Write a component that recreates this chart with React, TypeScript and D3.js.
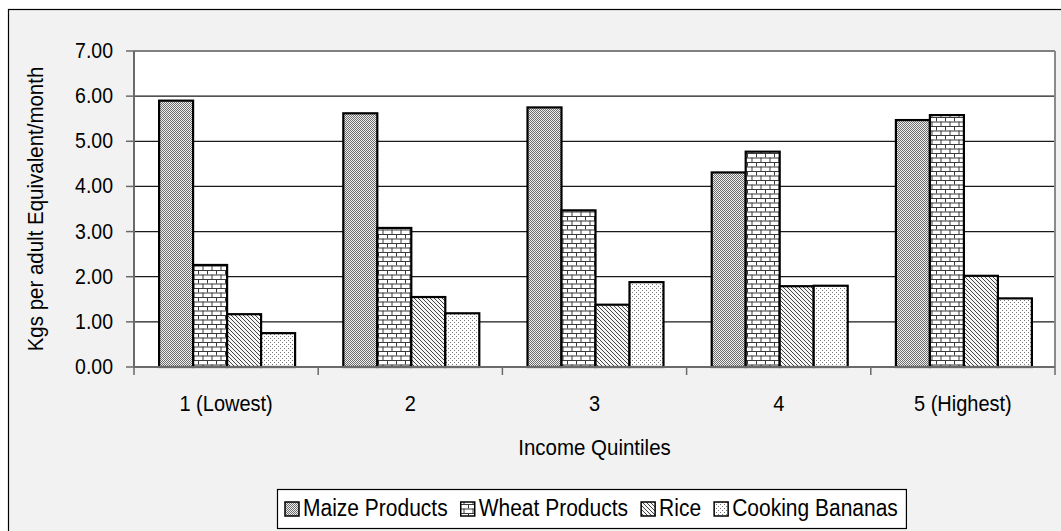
import React from "react";
import * as d3 from "d3";

const categories = ["1 (Lowest)", "2", "3", "4", "5 (Highest)"];
const seriesNames = ["Maize Products", "Wheat Products", "Rice", "Cooking Bananas"];
const maize = [5.9, 5.62, 5.75, 4.31, 5.47];
const wheat = [2.26, 3.08, 3.47, 4.77, 5.58];
const rice = [1.17, 1.55, 1.38, 1.79, 2.02];
const bananas = [0.75, 1.19, 1.88, 1.8, 1.52];
const yTicks = [0, 1, 2, 3, 4, 5, 6, 7];
const yTitle = "Kgs per adult Equivalent/month";
const xTitle = "Income Quintiles";

const seriesValues = [maize, wheat, rice, bananas];
const patternIds = ["pMaize", "pWheat", "pRice", "pBanana"];

const W = 1061;
const H = 531;
const FONT = "'Liberation Sans', Arial, sans-serif";
const SY = 1.12;

function measure(text: string, size: number): number {
  const c = document.createElement("canvas").getContext("2d");
  if (!c) return text.length * size * 0.5;
  c.font = `${size}px 'Liberation Sans', Arial, sans-serif`;
  return c.measureText(text).width;
}

function T(props: { x: number; y: number; size: number; anchor?: string; children: React.ReactNode }) {
  return (
    <text
      transform={`translate(${props.x},${props.y}) scale(1,${SY})`}
      textAnchor={props.anchor || "start"}
      fontSize={props.size}
      fill="#000"
    >
      {props.children}
    </text>
  );
}

export default function App() {
  const plot = { left: 134, right: 1055, top: 51, bottom: 367 };
  const pi = 0.2617;
  const x0 = d3
    .scaleBand<string>()
    .domain(categories)
    .range([plot.left, plot.right])
    .paddingInner(pi)
    .paddingOuter(pi / 2);
  const x1 = d3
    .scaleBand<string>()
    .domain(seriesNames)
    .range([0, x0.bandwidth()])
    .padding(0);
  const y = d3.scaleLinear().domain([0, 7]).range([plot.bottom, plot.top]);
  const step = x0.step();

  // legend layout
  const legendFont = 21;
  const sw = 14;
  const items = seriesNames.map((n) => ({ n, w: measure(n, legendFont) }));
  const gapAfterSwatch = 4;
  const gapBetween = 13;
  const padL = 8;
  const padR = 8;
  let total = padL + padR;
  items.forEach((it, i) => {
    total += sw + gapAfterSwatch + it.w + (i < items.length - 1 ? gapBetween : 0);
  });
  const legendX = 277;
  const legendY = 489;
  const legendH = 39;
  let cursor = legendX + padL;
  const legendItems = items.map((it) => {
    const pos = cursor;
    cursor += sw + gapAfterSwatch + it.w + gapBetween;
    return { ...it, x: pos };
  });

  return (
    <svg width={W} height={H} style={{ position: "absolute", left: 0, top: 0 }} fontFamily={FONT}>
      <defs>
        <pattern id="pMaize" width={4} height={4} patternUnits="userSpaceOnUse">
          <rect width={4} height={4} fill="#efefef" />
          <path
            d="M0,0h1v1h-1z M1,1h1v1h-1z M2,0h1v1h-1z M3,1h1v1h-1z M0,2h1v1h-1z M2,2h1v1h-1z M1,3h1v1h-1z M3,3h1v1h-1z"
            fill="#6e6e6e"
          />
        </pattern>
        <pattern id="pWheat" width={9} height={9} patternUnits="userSpaceOnUse">
          <rect width={9} height={9} fill="#ffffff" />
          <path d="M0,0.5H9 M0,5H9 M0.5,0V4.5 M5,4.5V9" stroke="#3a3a3a" strokeWidth={1} fill="none" />
        </pattern>
        <pattern id="pRice" width={4} height={4} patternUnits="userSpaceOnUse">
          <rect width={4} height={4} fill="#f6f6f6" />
          <path d="M-1,-1L5,5 M-1,3L1,5 M3,-1L5,1" stroke="#444" strokeWidth={1} fill="none" />
        </pattern>
        <pattern id="pBanana" width={4} height={4} patternUnits="userSpaceOnUse">
          <rect width={4} height={4} fill="#ffffff" />
          <rect x={0} y={0} width={1} height={1} fill="#777" />
          <rect x={2} y={2} width={1} height={1} fill="#777" />
        </pattern>
      </defs>

      {/* outer chart area */}
      <rect x={8.5} y={9.5} width={W + 20} height={H + 20} fill="#f2f2f2" stroke="#000" strokeWidth={1.2} />

      {/* plot area */}
      <rect
        x={plot.left}
        y={plot.top}
        width={plot.right - plot.left}
        height={plot.bottom - plot.top}
        fill="#ffffff"
      />

      {/* gridlines */}
      {yTicks.slice(1).map((t) => (
        <line
          key={"g" + t}
          x1={plot.left}
          x2={plot.right}
          y1={y(t)}
          y2={y(t)}
          stroke={t === 7 ? "#808080" : "#1a1a1a"}
          strokeWidth={t === 7 ? 2 : 1.3}
        />
      ))}
      {/* right border */}
      <line x1={plot.right} x2={plot.right} y1={plot.top} y2={plot.bottom} stroke="#8a8a8a" strokeWidth={2} />

      {/* y axis */}
      <line x1={plot.left} x2={plot.left} y1={plot.top} y2={plot.bottom} stroke="#6a6a6a" strokeWidth={2} />
      {yTicks.map((t) => (
        <g key={"yt" + t}>
          <line x1={plot.left - 8} x2={plot.left} y1={y(t)} y2={y(t)} stroke="#6a6a6a" strokeWidth={1.5} />
          <T x={113} y={y(t) + 7} size={19.5} anchor="end">
            {d3.format(".2f")(t)}
          </T>
        </g>
      ))}

      {/* bars */}
      {categories.map((c, ci) => (
        <g key={c}>
          {seriesNames.map((s, si) => {
            const v = seriesValues[si][ci];
            const bx = (x0(c) as number) + (x1(s) as number);
            return (
              <rect
                key={s}
                x={bx + 1}
                y={y(v)}
                width={x1.bandwidth()}
                height={y(0) - y(v)}
                fill={`url(#${patternIds[si]})`}
                stroke="#000"
                strokeWidth={2.2}
              />
            );
          })}
        </g>
      ))}

      {/* x axis */}
      <line x1={plot.left} x2={plot.right} y1={plot.bottom} y2={plot.bottom} stroke="#6a6a6a" strokeWidth={2} />
      {d3.range(categories.length + 1).map((i) => (
        <line
          key={"xt" + i}
          x1={plot.left + i * step}
          x2={plot.left + i * step}
          y1={plot.bottom}
          y2={plot.bottom + 8}
          stroke="#6a6a6a"
          strokeWidth={1.5}
        />
      ))}
      {categories.map((c) => (
        <T key={"xl" + c} x={(x0(c) as number) + x0.bandwidth() / 2} y={411} size={20} anchor="middle">
          {c}
        </T>
      ))}

      {/* titles */}
      <T x={(plot.left + plot.right) / 2} y={455} size={20.5} anchor="middle">
        {xTitle}
      </T>
      <text
        transform={`translate(43,${(plot.top + plot.bottom) / 2}) rotate(-90) scale(1,${SY})`}
        textAnchor="middle"
        fontSize={20.5}
        fill="#000"
      >
        {yTitle}
      </text>

      {/* legend */}
      <rect x={legendX + 0.5} y={legendY + 0.5} width={total} height={legendH} fill="#ffffff" stroke="#000" strokeWidth={1.2} />
      {legendItems.map((it, i) => (
        <g key={it.n}>
          <rect
            x={it.x}
            y={legendY + 13}
            width={sw}
            height={sw}
            fill={`url(#${patternIds[i]})`}
            stroke="#000"
            strokeWidth={1.5}
          />
          <T x={it.x + sw + gapAfterSwatch} y={legendY + 27} size={legendFont}>
            {it.n}
          </T>
        </g>
      ))}
    </svg>
  );
}
